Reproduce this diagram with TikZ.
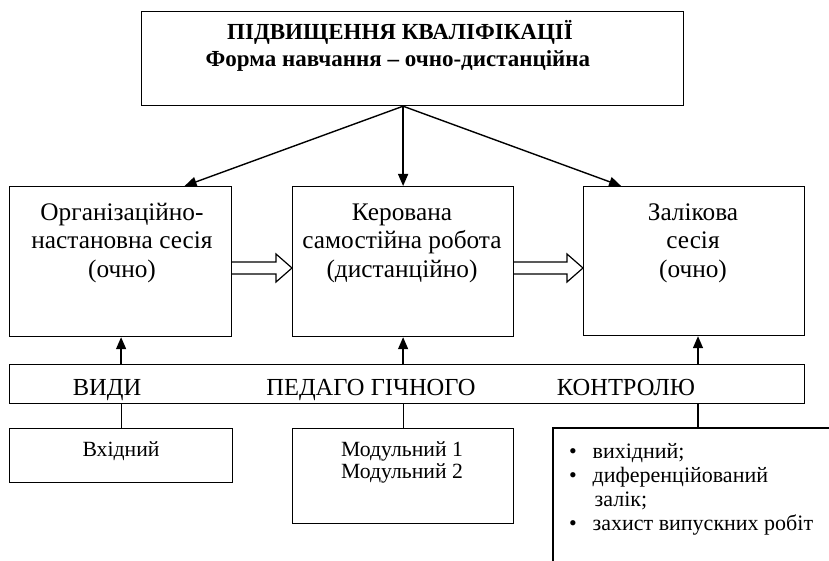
\documentclass[tikz,border=0pt]{standalone}
\usepackage{fontspec}
\setmainfont{Liberation Serif}
\usetikzlibrary{arrows.meta,calc}
\newcommand\titlefnt{\fontsize{23}{27}\selectfont\bfseries}
\newcommand\bodyfnt{\fontsize{25.3}{28.5}\selectfont}
\newcommand\bandfnt{\fontsize{24.5}{28}\selectfont}
\newcommand\smallfnt{\fontsize{21.7}{22}\selectfont}
\newcommand\listfnt{\fontsize{22}{23.7}\selectfont}
\newcommand\bul[1]{\makebox[#1][l]{\textbullet}}
\begin{document}
\begin{tikzpicture}[x=1pt,y=-1pt,
  box/.style={draw, line width=1.2pt, inner sep=0pt, anchor=north west},
  txt/.style={inner sep=0pt, anchor=base, align=center},
  arr/.style={line width=1.4pt, -{Triangle[length=12pt,width=10pt]}},
  lin/.style={line width=1.2pt},
  hollow/.style={line width=1.2pt, fill=white, line join=miter}]
\useasboundingbox (0,0) rectangle (829,561);
% boxes
\node[box, minimum width=542pt, minimum height=94pt] (top) at (141,11) {};
\node[box, minimum width=222pt, minimum height=150pt] (org) at (9,186) {};
\node[box, minimum width=221pt, minimum height=150pt] (ker) at (292,186) {};
\node[box, minimum width=221pt, minimum height=149pt] (zal) at (583,186) {};
\node[box, minimum width=795pt, minimum height=39pt] (band) at (9,364) {};
\node[box, minimum width=223pt, minimum height=54pt] (vx) at (9,428) {};
\node[box, minimum width=221pt, minimum height=95pt] (mod) at (292,428) {};
\coordinate (lastTL) at (553,428);
\coordinate (lastTop) at (698,428);
\draw[lin] (829,428) -- (lastTL) -- (553,561);
% texts
\node[txt, font=\titlefnt] (t1) at (400,40) {ПІДВИЩЕННЯ КВАЛІФІКАЦІЇ};
\node[txt, font=\titlefnt] (t2) at (398,67) {Форма навчання – очно-дистанційна};
\node[txt, font=\bodyfnt] (orgt) at (122,277) {Організаційно-\\настановна сесія\\(очно)};
\node[txt, font=\bodyfnt] (kert) at (402,277) {Керована\\самостійна робота\\(дистанційно)};
\node[txt, font=\bodyfnt] (zalt) at (693,277) {Залікова\\сесія\\(очно)};
\node[txt, font=\bandfnt] (b1) at (107,395) {ВИДИ};
\node[txt, font=\bandfnt] (b2) at (371,395) {ПЕДАГО ГІЧНОГО};
\node[txt, font=\bandfnt] (b3) at (626,395) {КОНТРОЛЮ};
\node[txt, font=\smallfnt] (vxt) at (121,456) {Вхідний};
\node[txt, font=\smallfnt] (modt) at (402,478) {Модульний 1\\Модульний 2};
\node[inner sep=0pt, anchor=base west, align=left, font=\listfnt] (lst) at (569,530)
  {\bul{23.5pt}вихідний;\\ \bul{23.5pt}диференційований\\ \hspace*{25.5pt}залік;\\ \bul{23.5pt}захист випускних робіт};
% top arrows
\coordinate (src) at (top.south -| ker.north);
\draw[arr] (src) -- ([xshift=64pt]org.north);
\draw[arr] (src) -- (ker.north);
\draw[arr] (src) -- ([xshift=-73pt]zal.north);
% up arrows and links
\draw[arr] (band.north -| vx.north) -- (org.south -| vx.north);
\draw[arr] (band.north -| mod.north) -- (ker.south -| mod.north);
\draw[arr] (band.north -| lastTop) -- (zal.south -| lastTop);
\draw[lin] (band.south -| vx.north) -- (vx.north);
\draw[lin] (band.south -| mod.north) -- (mod.north);
\draw[lin] (band.south -| lastTop) -- (lastTop);
% hollow arrows
\coordinate (h1s) at (org.east |- 0,268);
\coordinate (h1e) at (ker.west |- 0,268);
\coordinate (h2s) at (ker.east |- 0,268);
\coordinate (h2e) at (zal.west |- 0,268);
\draw[hollow] ($(h1s)+(0,-6)$) -- ($(h1e)+(-16,-6)$) -- ($(h1e)+(-16,-14)$) -- (h1e)
  -- ($(h1e)+(-16,14)$) -- ($(h1e)+(-16,6)$) -- ($(h1s)+(0,6)$);
\draw[hollow] ($(h2s)+(0,-6)$) -- ($(h2e)+(-16,-6)$) -- ($(h2e)+(-16,-14)$) -- (h2e)
  -- ($(h2e)+(-16,14)$) -- ($(h2e)+(-16,6)$) -- ($(h2s)+(0,6)$);
\end{tikzpicture}
\end{document}
